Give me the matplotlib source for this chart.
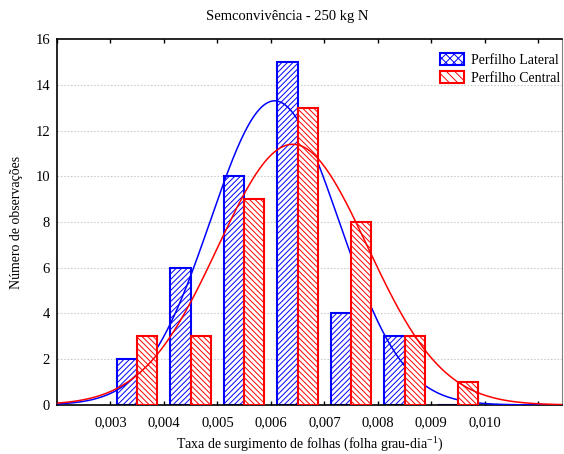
import numpy as np
import matplotlib
matplotlib.use("Agg")
import matplotlib.pyplot as plt
from matplotlib.patches import Patch

plt.rcParams['font.family'] = ['Liberation Serif', 'DejaVu Serif']
plt.rcParams['mathtext.default'] = 'regular'
plt.rcParams['hatch.linewidth'] = 0.7

# Classes de taxa de surgimento (centro das classes)
centros = [0.0035, 0.0045, 0.0055, 0.0065, 0.0075, 0.0085, 0.0095]
lateral = [2, 6, 10, 15, 4, 3, 0]
central = [3, 3, 9, 13, 8, 3, 1]

# Ajuste normal de cada perfilho (média, desvio padrão)
media_lat, dp_lat = 0.00607, 0.00120
media_cen, dp_cen = 0.00641, 0.00140
largura_classe = 0.001

xticks = [0.003, 0.004, 0.005, 0.006, 0.007, 0.008, 0.009, 0.010]
xticklabels = ['0,003', '0,004', '0,005', '0,006', '0,007', '0,008', '0,009', '0,010']


def curva_normal(x, media, dp, n):
    return n * largura_classe / (dp * np.sqrt(2 * np.pi)) * np.exp(-0.5 * ((x - media) / dp) ** 2)


fig = plt.figure(figsize=(5.64, 4.54), dpi=100)
ax = fig.add_axes([0.101, 0.108, 0.896, 0.806])

larg = 0.00038
x = np.linspace(0.002, 0.0115, 400)
c = np.array(centros)

ax.bar(c - larg / 2, lateral, width=larg, color='white', edgecolor='#0000ff',
       linewidth=1.5, hatch='//////', zorder=2)
ax.plot(x, curva_normal(x, media_lat, dp_lat, sum(lateral)), color='#0000ff', lw=1.1, zorder=3)
ax.bar(c + larg / 2, central, width=larg, color='white', edgecolor='#ff0000',
       linewidth=1.5, hatch='\\\\\\\\\\\\', zorder=4)
ax.plot(x, curva_normal(x, media_cen, dp_cen, sum(central)), color='#ff0000', lw=1.1, zorder=5)

ax.set_xlim(0.002, 0.01145)
ax.set_ylim(0, 16)
ax.set_xticks([0.002] + xticks + [0.011])
ax.set_xticklabels([''] + xticklabels + [''], fontsize=10.5)
ax.set_yticks(range(0, 17, 2))
ax.set_yticklabels([str(v) for v in range(0, 17, 2)], fontsize=10.5)
ax.tick_params(direction='in', top=True, length=3, width=1, pad=8)
ax.tick_params(axis='y', length=0, pad=5)

for v in range(2, 16, 2):
    ax.axhline(v, color='#cccccc', lw=0.8, ls=(0, (1.5, 1.5)), zorder=1)

for s in ['left', 'bottom', 'top']:
    ax.spines[s].set_linewidth(1.2)
    ax.spines[s].set_color('black')
ax.spines['right'].set_color('#808080')

ax.set_xlabel('Taxa de surgimento de folhas (folha grau-dia$^{-1}$)', fontsize=10, labelpad=5)
ax.set_ylabel('Número de observações', fontsize=10, labelpad=9)
fig.suptitle('Semconvivência - 250 kg N', x=0.51, y=0.978, fontsize=10.5)

handles = [
    Patch(facecolor='white', edgecolor='#0000ff', hatch='xxxx', linewidth=1.5, label='Perfilho Lateral'),
    Patch(facecolor='white', edgecolor='#ff0000', hatch='\\\\\\\\', linewidth=1.5, label='Perfilho Central'),
]
ax.legend(handles=handles, loc='upper right', frameon=False, fontsize=10,
          handlelength=1.7, handleheight=1.0, handletextpad=0.5,
          borderaxespad=0.2, labelspacing=0.3, bbox_to_anchor=(1.012, 0.985))

fig.savefig('out.png', dpi=100)
